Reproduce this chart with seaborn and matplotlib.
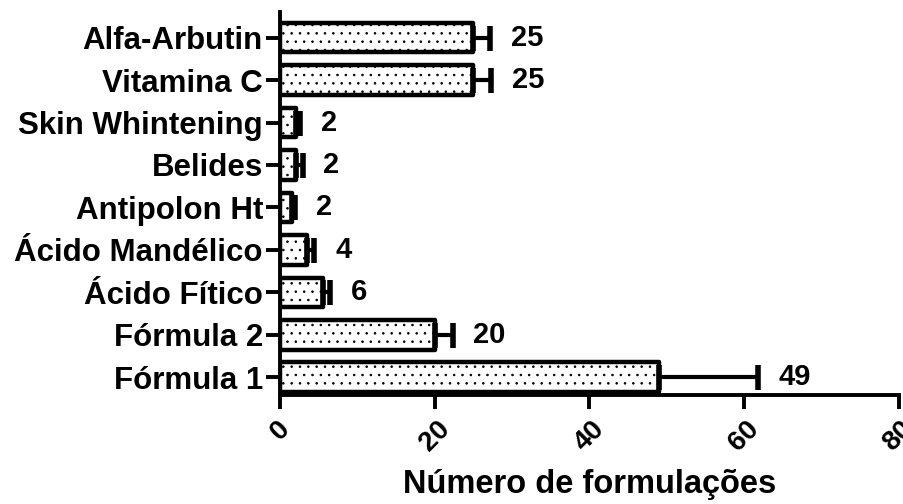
import numpy as np
import pandas as pd
import matplotlib
matplotlib.use("Agg")
import matplotlib.pyplot as plt
import seaborn as sns

# dados (de cima para baixo)
categorias = ["Alfa-Arbutin", "Vitamina C", "Skin Whintening", "Belides",
              "Antipolon Ht", "Ácido Mandélico", "Ácido Fítico",
              "Fórmula 2", "Fórmula 1"]
valores = [25, 25, 2, 2, 1.5, 3.5, 5.5, 20, 49]
erros = [2.1, 2.3, 0.6, 0.9, 0.4, 0.9, 1.0, 2.3, 12.8]
rotulos = ["25", "25", "2", "2", "2", "4", "6", "20", "49"]
ticks_x = [0, 20, 40, 60, 80]

sns.set_style("ticks")
plt.rcParams['font.family'] = ['Liberation Sans', 'DejaVu Sans']
plt.rcParams['text.color'] = 'black'
plt.rcParams['axes.labelcolor'] = 'black'
plt.rcParams['xtick.color'] = 'black'
plt.rcParams['ytick.color'] = 'black'
plt.rcParams['axes.edgecolor'] = 'black'
plt.rcParams['hatch.linewidth'] = 0.6
plt.rcParams['hatch.color'] = 'black'

df = pd.DataFrame({'categoria': categorias, 'valor': valores})

fig = plt.figure(figsize=(9.04, 5.04), dpi=100)
ax = fig.add_axes([0.31, 0.216, 0.684, 0.76])

sns.barplot(data=df, x='valor', y='categoria', orient='h', color='white',
            edgecolor='black', linewidth=3.2, width=0.7, errorbar=None, ax=ax)
for p in ax.patches:
    p.set_hatch('..')
    p.set_facecolor('white')
    p.set_joinstyle('round')

ypos = np.arange(len(categorias))
ax.errorbar(valores, ypos, xerr=[np.zeros(len(erros)), erros], fmt='none',
            ecolor='black', elinewidth=3, capsize=9, capthick=4, zorder=3)

for y, v, e, t in zip(ypos, valores, erros, rotulos):
    ax.annotate(t, xy=(v + e, y), xytext=(15, 0), textcoords='offset points',
                ha='left', va='center', fontsize=21, fontweight='bold')

ax.set_xlim(0, 80)
ax.set_ylim(len(categorias) - 0.58, -0.6)
ax.set_xticks(ticks_x)
ax.set_xticklabels([str(t) for t in ticks_x], rotation=45, fontsize=20,
                   fontweight='bold', ha='center', va='top')
ax.set_yticks(ypos)
ax.set_yticklabels(categorias, fontsize=22.5, fontweight='bold')
ax.set_ylabel('')
ax.set_xlabel('Número de formulações', fontsize=23.5, fontweight='bold',
              labelpad=9, color='black')

for s in ['left', 'bottom']:
    ax.spines[s].set_linewidth(2.8)
sns.despine(ax=ax)
ax.tick_params(axis='both', width=2.8, length=10)
ax.tick_params(axis='y', pad=2.5)
ax.tick_params(axis='x', pad=5)

fig.savefig('out.png', dpi=100)
